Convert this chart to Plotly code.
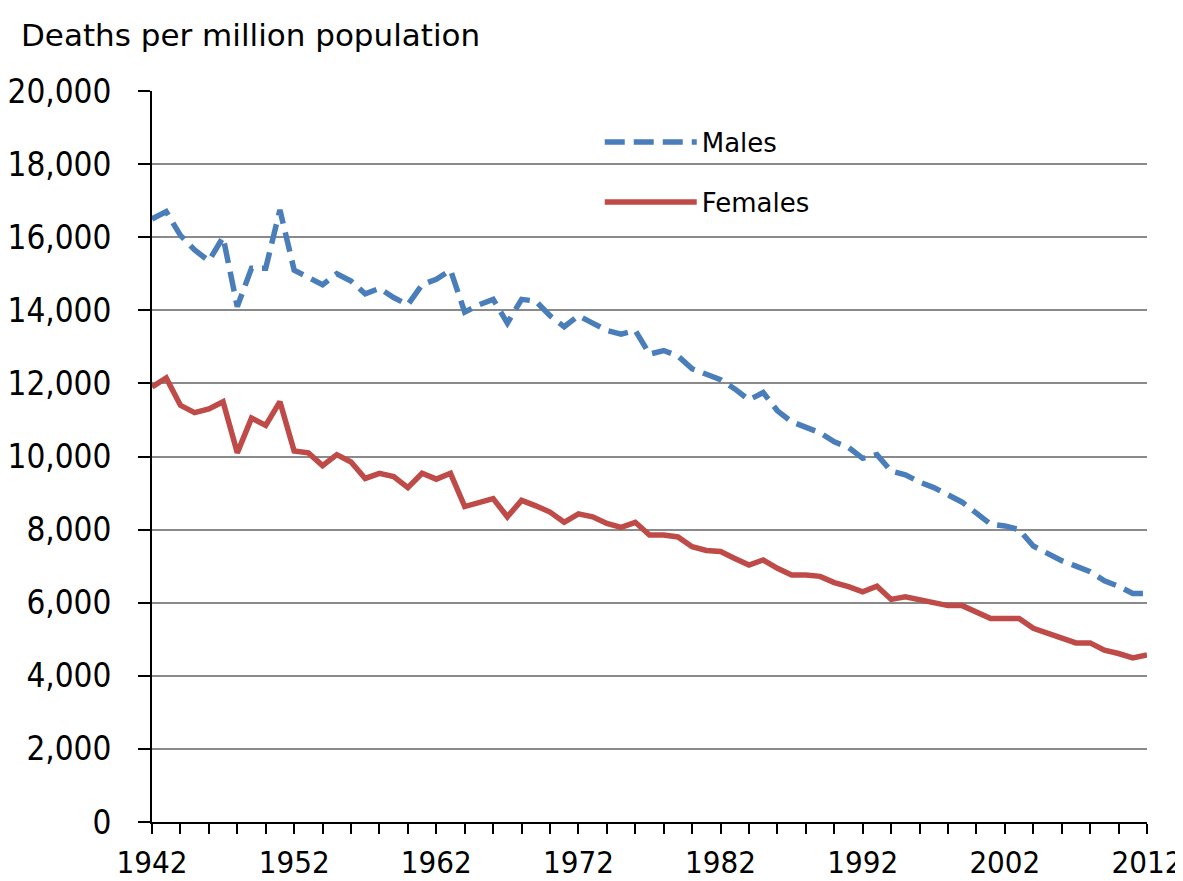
import plotly.graph_objects as go

years = list(range(1942, 2013))
males = [16500, 16700, 16050, 15650, 15350, 16000, 14100, 15150, 15150, 16750,
         15100, 14900, 14700, 15000, 14800, 14450, 14600, 14350, 14150, 14700,
         14850, 15100, 13950, 14150, 14300, 13650, 14300, 14250, 13850, 13550,
         13850, 13650, 13450, 13350, 13450, 12800, 12900, 12750, 12400, 12250,
         12100, 11850, 11550, 11750, 11250, 10950, 10800, 10650, 10400, 10250,
         9950, 10050, 9600, 9500, 9300, 9150, 8950, 8750, 8450, 8150,
         8100, 8000, 7550, 7350, 7150, 7000, 6850, 6600, 6450, 6250, 6250]
females = [11900, 12150, 11400, 11200, 11300, 11500, 10100, 11050, 10850, 11500,
           10150, 10100, 9750, 10050, 9850, 9400, 9540, 9450, 9150, 9540,
           9380, 9540, 8630, 8730, 8850, 8350, 8800, 8650, 8480, 8200,
           8430, 8350, 8170, 8060, 8200, 7850, 7850, 7800, 7530, 7430,
           7400, 7210, 7030, 7170, 6940, 6760, 6760, 6720, 6550, 6440,
           6300, 6450, 6090, 6160, 6090, 6000, 5920, 5920, 5730, 5570,
           5570, 5570, 5300, 5160, 5000, 4900, 4900, 4700, 4610, 4490, 4570]
x_tick_labels = [1942, 1952, 1962, 1972, 1982, 1992, 2002, 2012]
y_ticks = list(range(0, 20001, 2000))

NARROW = "DejaVu Sans Condensed, Liberation Sans Narrow, Arial Narrow, sans-serif"
REG = "DejaVu Sans, Verdana, sans-serif"

fig = go.Figure()
fig.add_trace(go.Scatter(x=years, y=males, mode="lines", name="Males", showlegend=True,
                         line=dict(color="#4A7EBB", width=5.5, dash="20px,9px"),
                         legend="legend"))
fig.add_trace(go.Scatter(x=years, y=females, mode="lines", name="Females", showlegend=True,
                         line=dict(color="#BE4B48", width=5.5),
                         legend="legend2"))

fig.update_layout(
    width=1175, height=873,
    margin=dict(l=144, r=36, t=83, b=59),
    paper_bgcolor="white", plot_bgcolor="white",
    font=dict(family=REG, color="#000000"),
    showlegend=True,
    legend=dict(x=0.450, y=0.930, xanchor="left", yanchor="middle",
                itemwidth=92, font=dict(family=REG, size=26, color="#000"),
                bgcolor="rgba(0,0,0,0)", visible=True),
    legend2=dict(x=0.450, y=0.848, xanchor="left", yanchor="middle",
                 itemwidth=92, font=dict(family=REG, size=26, color="#000"),
                 bgcolor="rgba(0,0,0,0)", visible=True),
    annotations=[dict(text="Deaths per million population", xref="paper", yref="paper",
                      x=-0.134, y=1.077, xanchor="left", yanchor="middle",
                      showarrow=False, font=dict(family=REG, size=31, color="#000"))],
)
fig.update_xaxes(
    range=[1942, 2012], tickmode="array", tickvals=x_tick_labels,
    ticktext=[str(v) for v in x_tick_labels],
    showgrid=False, zeroline=False, automargin=False,
    showline=True, linecolor="black", linewidth=2,
    ticks="outside", ticklen=10, tickwidth=2, tickcolor="black",
    tickfont=dict(family=NARROW, size=31, color="#000"),
    ticklabelstandoff=2, ticklabeloverflow="allow",
    minor=dict(tickmode="linear", tick0=1942, dtick=2, ticks="outside", ticklen=10,
               tickwidth=2, tickcolor="black", showgrid=False),
)
fig.update_yaxes(
    range=[0, 20000], tickmode="array", tickvals=y_ticks,
    tickformat=",", showgrid=True, gridcolor="#8A8A8A", gridwidth=2,
    zeroline=False, showline=True, linecolor="black", linewidth=2, automargin=False,
    ticks="outside", ticklen=12, tickwidth=2, tickcolor="black",
    tickfont=dict(family=NARROW, size=33, color="#000"),
    ticklabelstandoff=20, ticklabeloverflow="allow",
)

fig.write_html("out.html")
